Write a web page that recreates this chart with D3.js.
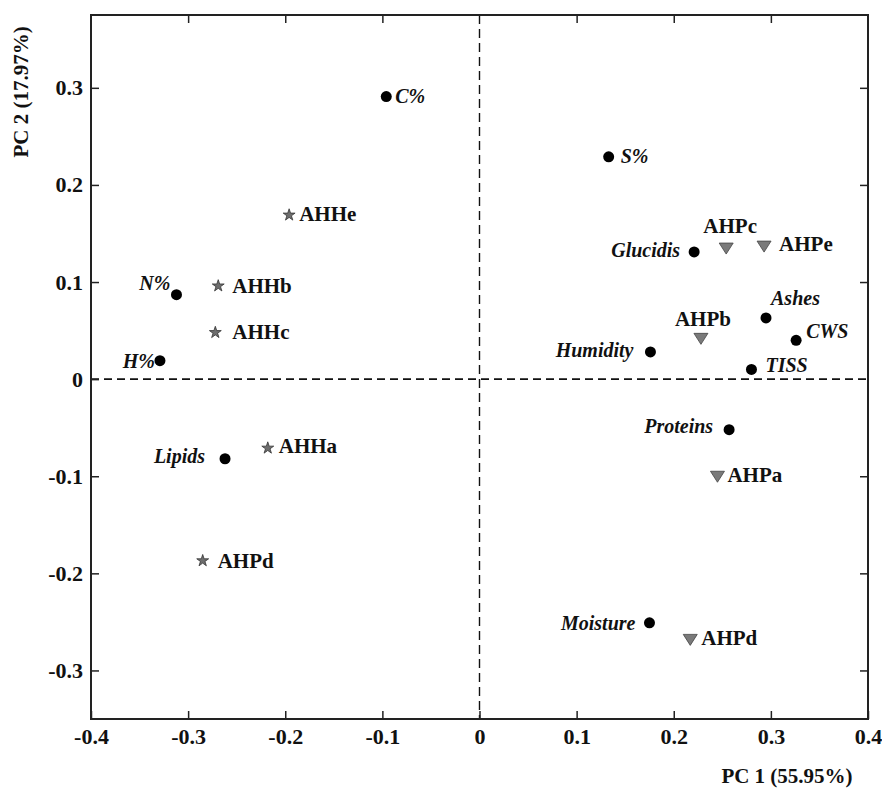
<!DOCTYPE html>
<html>
<head>
<meta charset="utf-8">
<script src="https://cdn.jsdelivr.net/npm/d3@7"></script>
<style>
    body{margin:0;background:#fff;}
    svg text{font-family:"Liberation Serif","Times New Roman",serif;font-weight:bold;fill:#111;}
</style>
</head>
<body>
<script>
// variables (black dots)
const variables = ["C%","N%","H%","S%","Glucidis","Ashes","CWS","Humidity","TISS","Lipids","Proteins","Moisture"];
const varPC1 = [-0.096,-0.312,-0.329,0.133,0.221,0.295,0.326,0.176,0.280,-0.262,0.257,0.175];
const varPC2 = [0.291,0.087,0.019,0.229,0.131,0.063,0.040,0.028,0.010,-0.082,-0.052,-0.251];

// samples (stars)
const starSamples = ["AHHe","AHHb","AHHc","AHHa","AHPd"];
const starPC1 = [-0.196,-0.269,-0.272,-0.218,-0.285];
const starPC2 = [0.169,0.096,0.048,-0.071,-0.187];

// samples (triangles)
const triSamples = ["AHPc","AHPe","AHPb","AHPa","AHPd"];
const triPC1 = [0.254,0.293,0.228,0.245,0.217];
const triPC2 = [0.135,0.137,0.042,-0.100,-0.268];

const xTicks = [-0.4,-0.3,-0.2,-0.1,0,0.1,0.2,0.3,0.4];
const yTicks = [-0.3,-0.2,-0.1,0,0.1,0.2,0.3];
const xTitle = "PC 1 (55.95%)", yTitle = "PC 2 (17.97%)";

// label placement [dx, dy, anchor]
const varLabelPos = {
    "C%":[9,6,"start"], "N%":[-6,-5,"end"], "H%":[-5,7,"end"], "S%":[12,6,"start"],
    "Glucidis":[-14,5,"end"], "Ashes":[5,-13,"start"], "CWS":[10,-2,"start"],
    "Humidity":[-17,5,"end"], "TISS":[14,3,"start"], "Lipids":[-20,4,"end"],
    "Proteins":[-16,3,"end"], "Moisture":[-14,7,"end"]
};
const starLabelPos = [[10,6],[14,7],[17,6],[11,5],[15,7]];
const triLabelPos = [[4,-15,"middle"],[15,5,"start"],[2,-12,"middle"],[10,6,"start"],[11,6,"start"]];

const W = 882, H = 789;
const LEFT = 91, RIGHT = 868, TOP = 15, BOTTOM = 719;

const SVG = d3.select("body").append("svg").attr("width", W).attr("height", H);

const x = d3.scaleLinear().domain([-0.4, 0.4]).range([LEFT, RIGHT]);
const y = d3.scaleLinear().domain([-0.35, 0.375]).range([BOTTOM, TOP]);
const fmt = (d)=> d===0 ? "0" : String(d);

// zero lines
SVG.append("line")
.attr("x1", x(0)).attr("x2", x(0)).attr("y1", TOP).attr("y2", BOTTOM)
.attr("stroke", "#111").attr("stroke-width", 1.4).attr("stroke-dasharray", "9,5");
SVG.append("line")
.attr("x1", LEFT).attr("x2", RIGHT).attr("y1", y(0)).attr("y2", y(0))
.attr("stroke", "#111").attr("stroke-width", 1.6).attr("stroke-dasharray", "8,5");

// axes with inward ticks
let styleAxis=(g)=>{
    g.select(".domain").remove();
    g.selectAll(".tick line").attr("stroke", "#222").attr("stroke-width", 1.5);
    g.selectAll(".tick text").style("font-size", "22px").attr("fill", "#111");
}

SVG.append("g").attr("transform", "translate(0,"+BOTTOM+")")
.call(d3.axisBottom(x).tickValues(xTicks).tickFormat(fmt).tickSizeInner(-8).tickSizeOuter(0).tickPadding(9))
.call(styleAxis);

SVG.append("g").attr("transform", "translate(0,"+TOP+")")
.call(d3.axisTop(x).tickValues(xTicks.filter(d=>Math.abs(d)>0 && Math.abs(d)<0.4)).tickFormat("").tickSizeInner(-8).tickSizeOuter(0))
.call(styleAxis);

SVG.append("g").attr("transform", "translate("+LEFT+",0)")
.call(d3.axisLeft(y).tickValues(yTicks).tickFormat(fmt).tickSizeInner(-8).tickSizeOuter(0).tickPadding(8))
.call(styleAxis);

SVG.append("g").attr("transform", "translate("+RIGHT+",0)")
.call(d3.axisRight(y).tickValues(yTicks.filter(d=>d!==0)).tickFormat("").tickSizeInner(-8).tickSizeOuter(0))
.call(styleAxis);

// frame
SVG.append("rect")
.attr("x", LEFT).attr("y", TOP).attr("width", RIGHT-LEFT).attr("height", BOTTOM-TOP)
.attr("fill", "none").attr("stroke", "#222").attr("stroke-width", 2);

// axis titles
SVG.append("text").text(xTitle)
.attr("x", 787).attr("y", 783).attr("text-anchor", "middle").style("font-size", "21px");
SVG.append("text").text(yTitle)
.attr("transform", "translate(28,92) rotate(-90)").attr("text-anchor", "middle").style("font-size", "21px");

// variable points
let vars = SVG.selectAll("g.var")
.data(variables.map((name, i)=>({name:name, pc1:varPC1[i], pc2:varPC2[i]})))
.enter().append("g").attr("class", "var")
.attr("transform", (d)=>"translate("+x(d.pc1)+","+y(d.pc2)+")");

vars.append("circle").attr("r", 5.5).attr("fill", "#000");
vars.append("text").text((d)=>d.name)
.attr("x", (d)=>varLabelPos[d.name][0])
.attr("y", (d)=>varLabelPos[d.name][1])
.attr("text-anchor", (d)=>varLabelPos[d.name][2])
.style("font-style", "italic").style("font-size", "20px");

// star samples
let stars = SVG.selectAll("g.star")
.data(starSamples.map((name, i)=>({name:name, pc1:starPC1[i], pc2:starPC2[i], pos:starLabelPos[i]})))
.enter().append("g").attr("class", "star")
.attr("transform", (d)=>"translate("+x(d.pc1)+","+y(d.pc2)+")");

stars.append("path").attr("d", d3.symbol(d3.symbolStar, 44))
.attr("fill", "#6e6e6e").attr("stroke", "#333").attr("stroke-width", 0.8);
stars.append("text").text((d)=>d.name)
.attr("x", (d)=>d.pos[0]).attr("y", (d)=>d.pos[1])
.style("font-size", "21px");

// triangle samples
let tris = SVG.selectAll("g.tri")
.data(triSamples.map((name, i)=>({name:name, pc1:triPC1[i], pc2:triPC2[i], pos:triLabelPos[i]})))
.enter().append("g").attr("class", "tri")
.attr("transform", (d)=>"translate("+x(d.pc1)+","+y(d.pc2)+")");

tris.append("path").attr("d", "M-7,-5L7,-5L0,6Z")
.attr("fill", "#7a7a7a").attr("stroke", "#444").attr("stroke-width", 0.8);
tris.append("text").text((d)=>d.name)
.attr("x", (d)=>d.pos[0]).attr("y", (d)=>d.pos[1])
.attr("text-anchor", (d)=>d.pos[2])
.style("font-size", "21px");
</script>
</body>
</html>
